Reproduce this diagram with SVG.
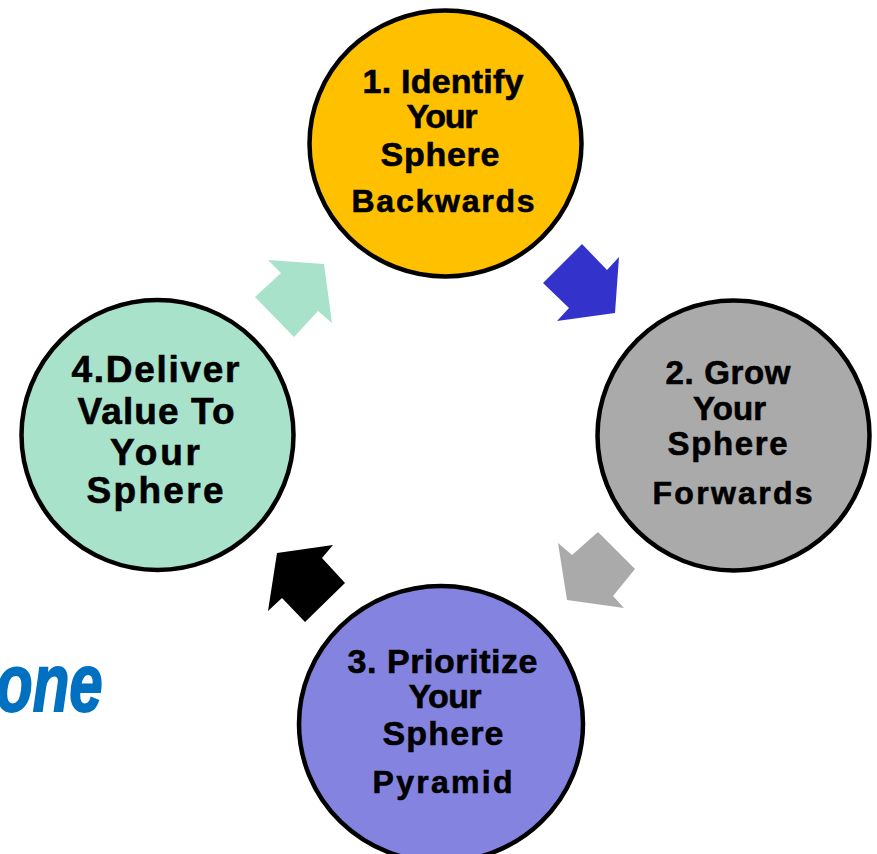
<svg xmlns="http://www.w3.org/2000/svg" width="877" height="854" viewBox="0 0 877 854">
  <style>
    .ring { stroke: #000; stroke-width: 4.5; }
    .lbl { font-family: "Liberation Sans", Arial, sans-serif; font-weight: bold; fill: #000; stroke: #000; stroke-width: 0.6; text-anchor: middle; }
    .tag { font-family: "Liberation Sans", Arial, sans-serif; font-weight: bold; font-style: italic; fill: #0070C0; stroke: #0070C0; stroke-width: 1.4; }
  </style>
  <rect width="877" height="854" fill="#fff"/>

  <!-- cut-off caption at left -->
  <text class="tag" font-size="60" transform="translate(-4,711) scale(1,1.36)" x="0" y="0">one</text>

  <!-- block arrows between the steps -->
  <g id="connectors">
    <polygon fill="#3333CC" points="582,244 607,270 619,257 615,313 557,321 569,308 543,283"/>
    <polygon fill="#AAAAAA" points="598,532 635,569 613,596 624,608 567,600 558,543 572,555"/>
    <polygon fill="#000000" points="333,545 322,558 345,583 305,622 282,598 268,611 277,553"/>
    <polygon fill="#A9E2CB" points="268,260 324,264 332,323 318,311 294,337 255,297 281,273"/>
  </g>

  <g id="step1">
    <ellipse class="ring" cx="445.5" cy="143.5" rx="136" ry="133" fill="#FFC000"/>
    <text class="lbl" font-size="34" x="443" y="93" textLength="161" lengthAdjust="spacing">1. Identify</text>
    <text class="lbl" font-size="34" x="442" y="128" textLength="71" lengthAdjust="spacing">Your</text>
    <text class="lbl" font-size="34" x="440" y="166" textLength="119" lengthAdjust="spacing">Sphere</text>
    <text class="lbl" font-size="32" x="443" y="212" textLength="183" lengthAdjust="spacing">Backwards</text>
  </g>

  <g id="step2">
    <ellipse class="ring" cx="733.5" cy="435.5" rx="136" ry="135" fill="#AAAAAA"/>
    <text class="lbl" font-size="33" x="728" y="384" textLength="125" lengthAdjust="spacing">2. Grow</text>
    <text class="lbl" font-size="33" x="729.5" y="420" textLength="73" lengthAdjust="spacing">Your</text>
    <text class="lbl" font-size="33" x="727.5" y="455" textLength="120" lengthAdjust="spacing">Sphere</text>
    <text class="lbl" font-size="32" x="732.5" y="504" textLength="160" lengthAdjust="spacing">Forwards</text>
  </g>

  <g id="step3">
    <ellipse class="ring" cx="441" cy="724" rx="142" ry="138" fill="#8484E0"/>
    <text class="lbl" font-size="34" x="442.5" y="673" textLength="190" lengthAdjust="spacing">3. Prioritize</text>
    <text class="lbl" font-size="34" x="445" y="708" textLength="73" lengthAdjust="spacing">Your</text>
    <text class="lbl" font-size="34" x="443" y="745" textLength="121" lengthAdjust="spacing">Sphere</text>
    <text class="lbl" font-size="32" x="442.5" y="793" textLength="140" lengthAdjust="spacing">Pyramid</text>
  </g>

  <g id="step4">
    <ellipse class="ring" cx="157.5" cy="435" rx="136" ry="135" fill="#A9E2CB"/>
    <text class="lbl" font-size="37" x="155.5" y="382" textLength="168" lengthAdjust="spacing">4.Deliver</text>
    <text class="lbl" font-size="37" x="156" y="424" textLength="157" lengthAdjust="spacing">Value To</text>
    <text class="lbl" font-size="37" x="155" y="465" textLength="90" lengthAdjust="spacing">Your</text>
    <text class="lbl" font-size="37" x="155" y="503" textLength="137" lengthAdjust="spacing">Sphere</text>
  </g>
</svg>
